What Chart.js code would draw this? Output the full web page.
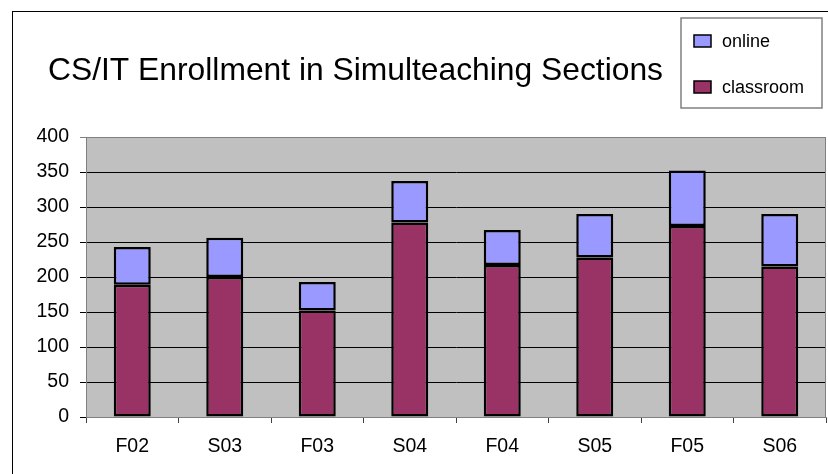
<!DOCTYPE html>
<html>
<head>
<meta charset="utf-8">
<script src="https://cdn.jsdelivr.net/npm/chart.js@4.4.1/dist/chart.umd.min.js"></script>
<style>
  body { margin: 0; background: #fff; }
  #wrap { width: 828px; height: 474px; }
</style>
</head>
<body>
<div id="wrap"><canvas id="CHART1"></canvas></div>
<script>
// DATA

const titleText = "CS/IT Enrollment in Simulteaching Sections";
const terms = ["F02", "S03", "F03", "S04", "F04", "S05", "F05", "S06"];
const classroom = [189, 200, 152, 278, 217, 228, 273, 215];
const online = [54, 56, 41, 59, 50, 62, 79, 75];
const yTicks = [0, 50, 100, 150, 200, 250, 300, 350, 400];

const FONT = "'Liberation Sans', Arial, sans-serif";

// frame, plot background and plot border
const framePlugin = {
    id: "frame",
    beforeDraw(chart) {
        const ctx = chart.ctx;
        const a = chart.chartArea;
        ctx.save();
        ctx.fillStyle = "#fff";
        ctx.fillRect(0, 0, chart.width, chart.height);
        ctx.strokeStyle = "#000";
        ctx.lineWidth = 1;
        ctx.strokeRect(12.5, 11.5, chart.width + 20, chart.height + 20);
        ctx.fillStyle = "#c0c0c0";
        ctx.fillRect(a.left, a.top, a.right - a.left, a.bottom - a.top);
        ctx.restore();
    },
    beforeDatasetsDraw(chart) {
        const ctx = chart.ctx;
        const a = chart.chartArea;
        ctx.save();
        ctx.strokeStyle = "#808080";
        ctx.lineWidth = 1;
        ctx.strokeRect(a.left + 0.5, a.top + 0.5, a.right - a.left - 1, a.bottom - a.top);
        ctx.restore();
    },
    afterDraw(chart) {
        const ctx = chart.ctx;
        ctx.save();
        // title
        ctx.fillStyle = "#000";
        ctx.font = "31.8px " + FONT;
        ctx.textAlign = "left";
        ctx.textBaseline = "alphabetic";
        ctx.fillText(titleText, 48, 80);
        // legend box
        ctx.fillStyle = "#fff";
        ctx.fillRect(681, 18, 141, 90);
        ctx.strokeStyle = "#808080";
        ctx.lineWidth = 1.5;
        ctx.strokeRect(681, 18, 141, 90);
        const items = chart.data.datasets.slice().reverse();
        items.forEach((ds, i) => {
            const cy = 41 + i * 46;
            ctx.fillStyle = ds.backgroundColor;
            ctx.fillRect(694, cy - 6, 17, 12);
            ctx.strokeStyle = "#000";
            ctx.lineWidth = 1.5;
            ctx.strokeRect(694, cy - 6, 17, 12);
            ctx.fillStyle = "#000";
            ctx.font = "18px " + FONT;
            ctx.textBaseline = "middle";
            ctx.fillText(ds.label, 722, cy + 1);
        });
        ctx.restore();
    }
};

const chart1 = new Chart(document.getElementById("CHART1"), {
    type: "bar",
    data: {
        labels: terms,
        datasets: [{
            label: "classroom",
            data: classroom,
            backgroundColor: "#993366",
            borderColor: "#000",
            borderWidth: 2.5,
            borderSkipped: false,
        }, {
            label: "online",
            data: online,
            backgroundColor: "#9999ff",
            borderColor: "#000",
            borderWidth: 2.5,
            borderSkipped: false,
        }],
    },
    options: {
        responsive: true,
        maintainAspectRatio: false,
        animation: false,
        layout: { padding: { top: 137, right: 2, left: 0, bottom: 0 } },
        datasets: { bar: { barPercentage: 0.4, categoryPercentage: 1 } },
        plugins: {
            legend: { display: false },
            title: { display: false },
            tooltip: { enabled: false },
        },
        scales: {
            x: {
                stacked: true,
                afterFit: (s) => { s.height = 57; },
                grid: {
                    offset: true,
                    drawOnChartArea: false,
                    drawTicks: true,
                    tickLength: 6,
                    color: "#404040",
                },
                border: { color: "#808080", width: 1 },
                ticks: {
                    color: "#000",
                    padding: 12,
                    font: { family: FONT, size: 19.5 },
                },
            },
            y: {
                stacked: true,
                min: 0,
                max: 400,
                afterFit: (s) => { s.width = 86; },
                afterBuildTicks: (s) => { s.ticks = yTicks.map(v => ({ value: v })); },
                grid: {
                    color: (c) => (c.tick && c.tick.value === 400 ? "#808080" : "#000"),
                    tickLength: 6,
                    lineWidth: 1,
                },
                border: { color: "#808080", width: 1 },
                ticks: {
                    color: "#000",
                    padding: 11,
                    font: { family: FONT, size: 19.5 },
                },
            },
        },
    },
    plugins: [framePlugin],
});
</script>
</body>
</html>
